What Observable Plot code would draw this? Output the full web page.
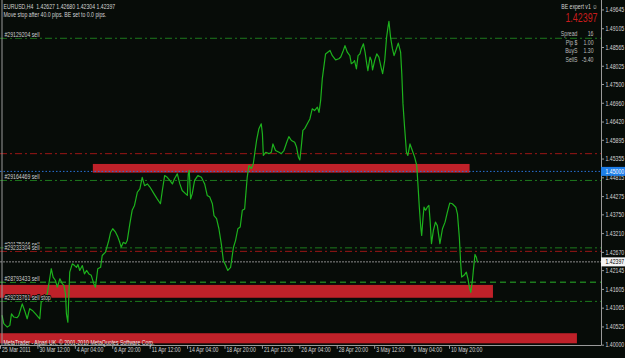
<!DOCTYPE html>
<html><head><meta charset="utf-8">
<script src="https://cdn.jsdelivr.net/npm/d3@7"></script>
<script src="https://cdn.jsdelivr.net/npm/@observablehq/plot@0.6"></script>
<style>html,body{margin:0;padding:0;background:#070c08;overflow:hidden}</style>
</head><body><div id="chart"></div>
<script>
// EURUSD H4 close, position in bars from the first visible bar
const barIndex = [
 0.7,1.4,2.9,4.0,4.7,5.7,7.1,7.8,9.3,10.3,
 11.4,12.5,13.6,15.0,16.8,17.4,18.5,20.0,20.7,21.7,
 22.5,23.5,24.3,25.4,26.4,27.1,27.8,28.2,28.8,29.2,
 29.6,30.7,31.7,32.5,33.1,33.9,35.0,35.9,36.8,37.8,
 38.8,39.9,40.6,41.6,42.8,43.5,44.9,46.3,47.1,48.0,
 49.2,50.2,51.0,51.6,52.5,53.5,54.2,55.3,56.3,57.3,
 58.5,59.6,60.6,61.6,62.8,63.9,65.6,67.0,68.4,69.2,
 70.2,71.3,72.4,73.5,74.4,75.6,76.7,77.7,79.1,79.9,
 80.3,80.7,81.3,82.0,83.0,84.4,85.9,87.3,88.4,89.5,
 90.6,91.3,92.4,93.4,94.4,95.3,96.3,97.2,98.4,99.6,
 100.5,101.5,102.5,103.4,104.4,104.8,105.5,106.2,107.3,108.1,
 108.7,109.5,110.5,111.5,112.0,112.4,113.4,114.8,115.8,116.5,
 117.6,119.1,120.1,121.2,122.4,123.3,124.4,125.8,126.6,127.4,
 128.0,128.6,129.3,130.1,131.2,132.3,133.3,134.3,135.5,136.2,
 136.9,137.6,139.0,140.9,141.9,143.3,144.7,145.5,146.6,147.3,
 148.3,149.4,150.0,150.9,151.4,152.2,152.9,153.7,154.3,155.2,
 155.9,156.6,157.1,158.0,158.6,159.1,160.0,160.9,161.8,162.9,
 163.4,164.3,165.1,165.7,166.1,166.8,167.6,168.3,169.3,170.1,
 171.1,171.6,172.1,172.8,173.6,174.2,175.1,176.1,177.1,178.0,
 178.5,179.1,179.7,180.1,180.7,181.1,181.8,182.5,183.2,183.7,
 184.3,185.1,186.0,186.8,187.9,189.0,190.1,191.1,192.1,193.2,
 194.7,195.4,196.2,196.8,197.2,198.2,199.2,199.9,200.5,201.1,
 201.8,202.2,202.9,203.5,203.9
];
const closePrice = [
 1.4085,1.4062,1.4052,1.4057,1.4090,1.4081,1.4079,1.4085,1.4119,1.4100,
 1.4076,1.4105,1.4100,1.4090,1.4076,1.4124,1.4129,1.4148,1.4177,1.4220,
 1.4196,1.4186,1.4167,1.4191,1.4177,1.4172,1.4148,1.4090,1.4066,1.4138,
 1.4210,1.4234,1.4229,1.4224,1.4232,1.4215,1.4229,1.4205,1.4215,1.4205,
 1.4201,1.4177,1.4167,1.4220,1.4224,1.4258,1.4268,1.4301,1.4325,1.4335,
 1.4325,1.4311,1.4296,1.4282,1.4296,1.4292,1.4301,1.4349,1.4388,1.4402,
 1.4440,1.4450,1.4483,1.4459,1.4464,1.4455,1.4436,1.4421,1.4407,1.4445,
 1.4488,1.4483,1.4474,1.4464,1.4479,1.4493,1.4464,1.4445,1.4436,1.4431,
 1.4493,1.4503,1.4421,1.4436,1.4474,1.4488,1.4483,1.4464,1.4431,1.4426,
 1.4407,1.4373,1.4364,1.4335,1.4292,1.4244,1.4229,1.4215,1.4224,1.4281,
 1.4301,1.4335,1.4340,1.4388,1.4392,1.4426,1.4483,1.4517,1.4508,1.4522,
 1.4551,1.4589,1.4623,1.4637,1.4608,1.4546,1.4555,1.4551,1.4555,1.4579,
 1.4560,1.4555,1.4551,1.4560,1.4584,1.4600,1.4589,1.4584,1.4570,1.4541,
 1.4533,1.4570,1.4618,1.4623,1.4637,1.4651,1.4680,1.4675,1.4685,1.4670,
 1.4704,1.4766,1.4838,1.4848,1.4833,1.4821,1.4824,1.4829,1.4848,1.4862,
 1.4843,1.4833,1.4810,1.4814,1.4819,1.4795,1.4833,1.4838,1.4853,1.4867,
 1.4843,1.4810,1.4790,1.4829,1.4819,1.4792,1.4819,1.4838,1.4829,1.4795,
 1.4781,1.4819,1.4886,1.4915,1.4932,1.4886,1.4853,1.4833,1.4853,1.4869,
 1.4843,1.4781,1.4695,1.4627,1.4555,1.4546,1.4579,1.4560,1.4541,1.4517,
 1.4464,1.4397,1.4340,1.4316,1.4368,1.4397,1.4388,1.4397,1.4402,1.4359,
 1.4292,1.4330,1.4354,1.4344,1.4292,1.4335,1.4354,1.4383,1.4409,1.4407,
 1.4397,1.4378,1.4311,1.4234,1.4196,1.4201,1.4210,1.4191,1.4167,1.4152,
 1.4186,1.4215,1.4261,1.4253,1.4240
];

// horizontal order lines
const levelPrice = [1.4883, 1.4551, 1.4474, 1.4280, 1.4270, 1.4181, 1.4126];
const levelKind  = ["sell", "sl", "sell", "sell", "sl", "sell2", "sell"];
const levelLabel = ["#29129204 sell", "", "#29164469 sell", "#29175046 sell", "#29233304 sell", "#28793433 sell", "#29233761 sell stop"];

// shaded zones (rectangles)
const zoneFrom = [39.7, 0, 0];
const zoneTo   = [200.8, 210.8, 246.7];
const zoneHigh = [1.4520, 1.4172, 1.4033];
const zoneLow  = [1.4495, 1.4135, 1.4004];

const alertPrice = 1.45000;
const bidPrice = 1.42397;

const priceTicks = [1.49645,1.49105,1.48565,1.48025,1.47500,1.46960,1.46420,1.45895,1.45355,
  1.44815,1.44275,1.43750,1.43210,1.42670,1.42145,1.41605,1.41065,1.40525,1.40000];
const dateBars = [0,16,32,48,64,80,96,112,128,144,160,176,192];
const dateLabel = ["25 Mar 2011","30 Mar 12:00","4 Apr 04:00","6 Apr 20:00","11 Apr 12:00","14 Apr 04:00",
  "18 Apr 20:00","21 Apr 12:00","26 Apr 04:00","28 Apr 20:00","3 May 12:00","6 May 04:00","10 May 20:00"];

const headerLine = "EURUSD,H4  1.42627 1.42680 1.42304 1.42397";
const noteLine = "Move stop after 40.0 pips. BE set to 0.0 pips.";
const expertName = "BE expert v1 \u263A";
const infoLabels = ["Spread", "Pip $", "BuyS", "SellS"];
const infoValues = ["16", "1.00", "1.30", "-5.40"];
const copyright = "MetaTrader - Alpari UK, \u00A9 2001-2010 MetaQuotes Software Corp.";

const X_MAX = 257;
const Y_MIN = 1.39991, Y_MAX = 1.49917;

const n = Math.min(barIndex.length, closePrice.length);
const series = d3.range(n).map(i => ({bar: barIndex[i], close: closePrice[i]}));
const levels = levelPrice.map((p, i) => ({price: p, kind: levelKind[i], label: levelLabel[i]}));
const zones = zoneFrom.map((f, i) => ({from: f, to: zoneTo[i], high: zoneHigh[i], low: zoneLow[i]}));

const FONT = "'Liberation Sans','Arial',sans-serif";
const GREEN_LVL = "#1d7a1d", RED_LVL = "#9c1616", AXIS = "#9a9a9a", TXT = "#d4d4d4";

const chart = Plot.plot({
  width: 625, height: 358,
  marginLeft: 0, marginRight: 24, marginTop: 0, marginBottom: 13,
  x: {domain: [0, X_MAX], axis: null},
  y: {domain: [Y_MIN, Y_MAX], axis: null},
  style: {background: "#070c08", fontFamily: FONT, fontSize: "7px", overflow: "visible"},
  marks: [
    Plot.rect(zones, {x1: "from", x2: "to", y1: "low", y2: "high", fill: "#bf2129"}),
    Plot.ruleY(levels.filter(d => d.kind === "sell"), {y: "price", stroke: GREEN_LVL, strokeDasharray: "7,3,2,3"}),
    Plot.ruleY(levels.filter(d => d.kind === "sell2"), {y: "price", stroke: GREEN_LVL, strokeWidth: 1.6, strokeDasharray: "6,4"}),
    Plot.ruleY(levels.filter(d => d.kind === "sl"), {y: "price", stroke: RED_LVL, strokeDasharray: "7,3,2,3"}),
    Plot.ruleY([alertPrice], {stroke: "#2a72d8", strokeDasharray: "1.5,2"}),
    Plot.ruleY([bidPrice], {stroke: "#8a8a8a", strokeDasharray: "2,1"}),
    Plot.line(series, {x: "bar", y: "close", stroke: "#1db21d", strokeWidth: 1.2}),
    // frame
    Plot.ruleX([0], {stroke: AXIS, dx: 1.5}),
    Plot.ruleX([X_MAX], {stroke: AXIS}),
    Plot.ruleY([Y_MIN], {stroke: AXIS}),
    // order labels
    Plot.text(levels.filter(d => d.label), {y: "price", text: "label", frameAnchor: "left", textAnchor: "start",
      dx: 4, dy: -3.5, fill: "#cfcfcf", fontSize: 7, stroke: "#070c08", strokeWidth: 2}),
    // right price axis
    Plot.ruleY(priceTicks, {x1: X_MAX, x2: X_MAX + 1.3, stroke: AXIS}),
    Plot.text(priceTicks, {y: d => d, text: d => d.toFixed(5), frameAnchor: "right", textAnchor: "start", dx: 4, fill: TXT, fontSize: 7}),
    Plot.ruleY([alertPrice], {x1: X_MAX, x2: X_MAX + 10.4, stroke: "#1e7ee8", strokeWidth: 9}),
    Plot.text([alertPrice], {y: d => d, text: d => d.toFixed(5), frameAnchor: "right", textAnchor: "start", dx: 4, fill: "#ffffff", fontSize: 7}),
    Plot.ruleY([bidPrice], {x1: X_MAX, x2: X_MAX + 10.4, stroke: "#f4f4f4", strokeWidth: 9}),
    Plot.text([bidPrice], {y: d => d, text: d => d.toFixed(5), frameAnchor: "right", textAnchor: "start", dx: 4, fill: "#000000", fontSize: 7}),
    // bottom time axis
    Plot.ruleX(dateBars, {y1: Y_MIN, y2: Y_MIN - 0.0011, stroke: AXIS}),
    Plot.text(dateBars, {x: d => d, text: (d, i) => dateLabel[i], frameAnchor: "bottom", textAnchor: "start", dx: 1.5, dy: 6.5, fill: TXT, fontSize: 7}),
    // header texts
    Plot.text([headerLine], {frameAnchor: "top-left", dx: 3, dy: 6, textAnchor: "start", lineAnchor: "middle", fill: TXT, fontSize: 7}),
    Plot.text([noteLine], {frameAnchor: "top-left", dx: 3, dy: 14, textAnchor: "start", lineAnchor: "middle", fill: TXT, fontSize: 7}),
    Plot.text([expertName], {frameAnchor: "top-right", dx: -4, dy: 6, textAnchor: "end", lineAnchor: "middle", fill: TXT, fontSize: 7}),
    Plot.text([bidPrice], {text: d => d.toFixed(5), frameAnchor: "top-right", dx: -4, dy: 18, textAnchor: "end", lineAnchor: "middle", fill: "#c81c1c", fontSize: 12}),
    Plot.text([infoLabels.join("\n")], {frameAnchor: "top-right", dx: -24, dy: 29.5, textAnchor: "end", lineAnchor: "top", lineHeight: 1.22, fill: "#bdbdbd", fontSize: 7}),
    Plot.text([infoValues.join("\n")], {frameAnchor: "top-right", dx: -8, dy: 29.5, textAnchor: "end", lineAnchor: "top", lineHeight: 1.22, fill: "#bdbdbd", fontSize: 7}),
    Plot.text([copyright], {frameAnchor: "bottom-left", dx: 3, dy: -3, textAnchor: "start", lineAnchor: "middle", fill: "#e6e6e6", fontSize: 7})
  ]
});
// MetaTrader's small chart font is narrow: compress every label horizontally about its anchor
d3.select(chart).selectAll("text").each(function() {
  const t = this.getAttribute("transform");
  this.setAttribute("transform", (t ? t + " " : "") + "scale(0.74,1)");
});
document.getElementById("chart").appendChild(chart);
</script>
</body></html>
